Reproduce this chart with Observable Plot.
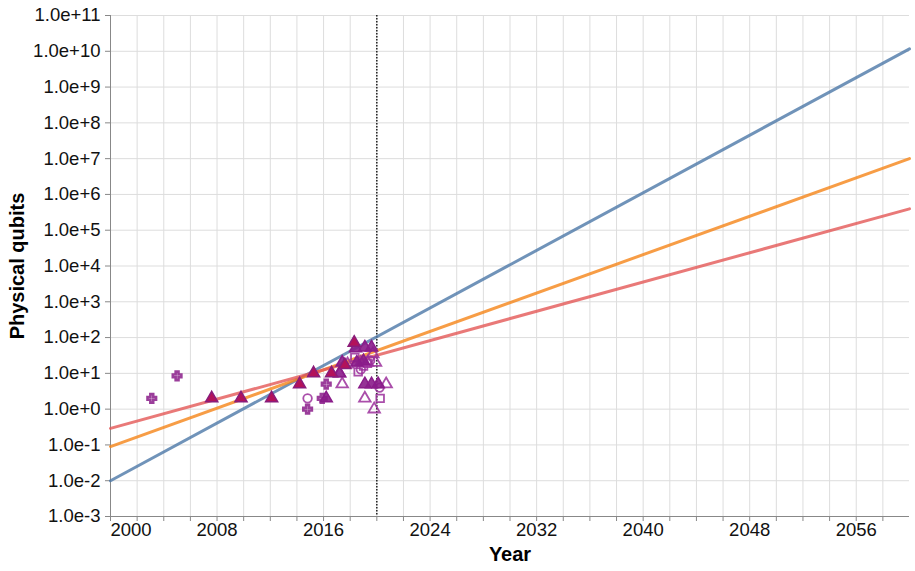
<!DOCTYPE html>
<html>
<head>
<meta charset="utf-8">
<script src="https://cdn.jsdelivr.net/npm/d3@7"></script>
<script src="https://cdn.jsdelivr.net/npm/@observablehq/plot@0.6"></script>
<style>
  html, body { margin: 0; padding: 0; background: #fff; }
  #chart svg { display: block; }
</style>
</head>
<body>
<div id="chart"></div>
<script>
// ---- data ----
const lineYears = [2000, 2060];
const fitNames = ["Fit A", "Fit B", "Fit C"];
const fitColors = ["#4c78a8", "#f58518", "#e45756"];
const fitValues = [
  [0.01, 1.17e10],
  [0.09, 1.0e7],
  [0.29, 3.95e5]
];

const ptYear   = [2003.1, 2005.0, 2007.6, 2009.8, 2012.1, 2014.2, 2015.25, 2014.8, 2014.8, 2015.9,
                  2016.2, 2016.2, 2016.6, 2017.2, 2017.4, 2017.2, 2017.4, 2017.6, 2017.8, 2018.3,
                  2018.4, 2018.35, 2018.5, 2018.8, 2019.0, 2019.3, 2019.1, 2019.6, 2019.7, 2018.6,
                  2018.8, 2019.0, 2019.3, 2019.5, 2019.1, 2019.6, 2020.1, 2020.7, 2020.2, 2019.1,
                  2020.25, 2019.8, 2019.9];
const ptQubits = [2, 8.5, 2, 2, 2, 5, 10, 2, 1, 2,
                  2, 5, 10, 10, 5, 10, 20, 17, 18, 72,
                  50, 28, 20, 20, 22, 20, 53, 53, 35, 11,
                  13, 16, 19, 23, 5, 5, 5, 5, 4, 2,
                  2, 1, 20];
const ptSymbol = ["cross", "cross", "triangle", "triangle", "triangle", "triangle", "triangle", "circle", "cross", "cross",
                  "triangle", "cross", "triangle", "triangle", "triangle", "triangle", "triangle", "triangle", "triangle", "triangle",
                  "triangle", "square", "triangle", "triangle", "triangle", "triangle", "triangle", "triangle", "triangle", "square",
                  "circle", "square", "square", "circle", "triangle", "triangle", "triangle", "triangle", "circle", "triangle",
                  "square", "triangle", "triangle"];
const ptStyle  = ["solid", "solid", "crimson", "crimson", "crimson", "crimson", "crimson", "hollow", "solid", "solid",
                  "solid", "solid", "crimson", "hollow", "hollow", "solid", "solid", "crimson", "hollow", "crimson",
                  "solid", "hollow", "solid", "hollow", "solid", "hollow", "solid", "solid", "hollow", "hollow",
                  "hollow", "hollow", "hollow", "hollow", "solid", "solid", "solid", "hollow", "hollow", "hollow",
                  "hollow", "hollow", "hollow"];

const yTicks = [1e-3, 1e-2, 1e-1, 1, 1e1, 1e2, 1e3, 1e4, 1e5, 1e6, 1e7, 1e8, 1e9, 1e10, 1e11];
const xTicks = [2000, 2002, 2004, 2006, 2008, 2010, 2012, 2014, 2016, 2018, 2020, 2022, 2024, 2026, 2028,
                2030, 2032, 2034, 2036, 2038, 2040, 2042, 2044, 2046, 2048, 2050, 2052, 2054, 2056, 2058];
const xLabels = [2000, 2008, 2016, 2024, 2032, 2040, 2048, 2056];
const markerYear = 2020;

// ---- tables ----
const fitRows = [];
fitNames.forEach((n, i) => lineYears.forEach((yr, j) => fitRows.push({name: n, year: yr, value: fitValues[i][j]})));
const pts = ptYear.map((y, i) => ({year: y, qubits: ptQubits[i], symbol: ptSymbol[i], style: ptStyle[i]}));
const crosses = pts.filter(d => d.symbol === "cross");
const solid = pts.filter(d => d.style === "solid" && d.symbol !== "cross");
const crimson = pts.filter(d => d.style === "crimson");
const hollow = pts.filter(d => d.style === "hollow");

const font = "'Liberation Sans', Arial, Helvetica, sans-serif";

const chart = Plot.plot({
  width: 915,
  height: 571,
  marginLeft: 110,
  marginRight: 6,
  marginTop: 15,
  marginBottom: 55,
  style: {fontFamily: font, fontSize: "18px", color: "#111", background: "#fff"},
  x: {domain: [2000, 2060], axis: null},
  y: {type: "log", domain: [1e-3, 1e11], axis: null},
  symbol: {domain: ["circle", "square", "cross", "triangle"], range: ["circle", "square", "cross", "triangle"]},
  marks: [
    Plot.gridX(xTicks, {stroke: "#ddd", strokeOpacity: 1}),
    Plot.gridY(yTicks, {stroke: "#ddd", strokeOpacity: 1}),
    Plot.axisY(yTicks, {anchor: "left", tickSize: 5, tickPadding: 5, stroke: "#888", fontSize: 18.5,
      tickFormat: d3.format(".1e"), label: null}),
    Plot.axisX(xTicks, {anchor: "bottom", tickSize: 5, stroke: "#888", tickFormat: () => "", label: null}),
    Plot.axisX(xLabels.slice(1), {anchor: "bottom", tickSize: 0, tickPadding: 6, fontSize: 18.5, tickFormat: d => String(d), label: null}),
    Plot.axisX(xLabels.slice(0, 1), {anchor: "bottom", tickSize: 0, tickPadding: 6, fontSize: 18.5, textAnchor: "start", tickFormat: d => String(d), label: null}),
    Plot.ruleX([2000], {stroke: "#888"}),
    Plot.ruleY([1e-3], {stroke: "#888"}),
    Plot.ruleX([markerYear], {stroke: "#000", strokeWidth: 1.3, strokeDasharray: "1.5,1.5"}),
    Plot.line(fitRows, {x: "year", y: "value", z: "name", stroke: "name", strokeWidth: 3, strokeOpacity: 0.8}),
    Plot.dot(hollow, {x: "year", y: "qubits", symbol: "symbol", r: 4.3, stroke: "#9b2f9b", strokeWidth: 1.8, fill: "none", strokeOpacity: 0.85}),
    Plot.dot(crosses, {x: "year", y: "qubits", symbol: "symbol", r: 3.6, stroke: "#8a1c8a", strokeWidth: 2.6, fill: "none", strokeOpacity: 0.85}),
    Plot.dot(solid, {x: "year", y: "qubits", symbol: "symbol", r: 4.5, stroke: "#8a1c8a", strokeWidth: 1.5, fill: "#8a1c8a", fillOpacity: 0.9}),
    Plot.dot(crimson, {x: "year", y: "qubits", symbol: "symbol", r: 4.5, stroke: "#8a1c7a", strokeWidth: 1.5, fill: "#b3125a"}),
    Plot.text(["Year"], {frameAnchor: "bottom", dy: 44, fontSize: 20, fontWeight: "bold", fill: "#000"}),
    Plot.text(["Physical qubits"], {frameAnchor: "left", dx: -93, rotate: -90, textAnchor: "middle", fontSize: 20, fontWeight: "bold", fill: "#000"})
  ],
  color: {domain: fitNames, range: fitColors}
});

document.getElementById("chart").appendChild(chart);
</script>
</body>
</html>
